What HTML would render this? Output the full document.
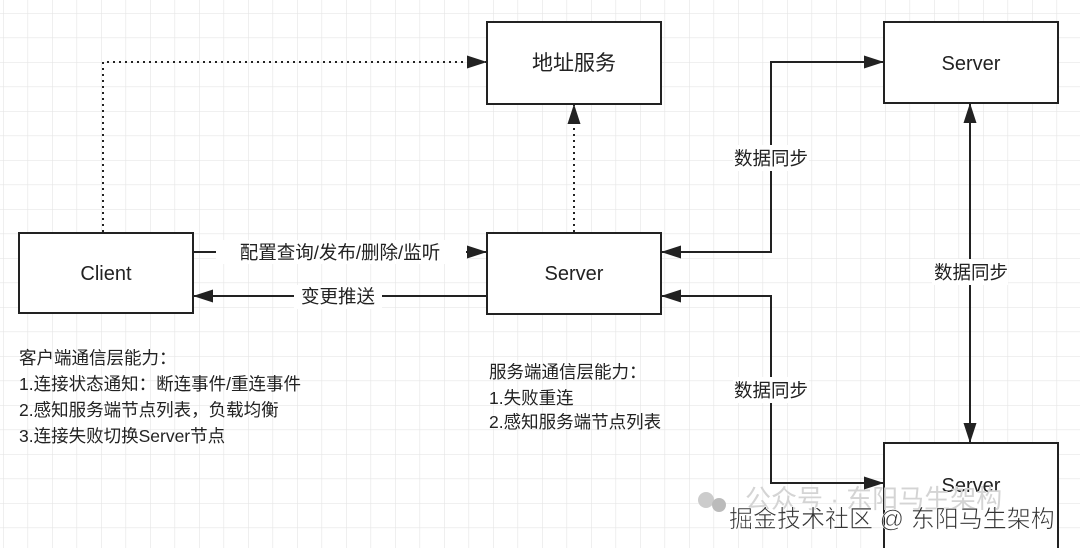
<!DOCTYPE html>
<html><head><meta charset="utf-8"><style>
body{margin:0;width:1080px;height:548px;overflow:hidden;background:#fff;}
svg text{font-family:"Liberation Sans","Noto Sans CJK SC",sans-serif;fill:#222;}
</style></head><body>
<svg width="1080" height="548" viewBox="0 0 1080 548" xmlns="http://www.w3.org/2000/svg">
<defs>
<pattern id="g" width="24.5" height="24.5" patternUnits="userSpaceOnUse" x="3" y="13">
<path d="M0 0H24.5M0 0V24.5" stroke="#e6e6e6" stroke-width="1.3" fill="none"/>
</pattern>
<marker id="a" markerWidth="20" markerHeight="13" refX="19" refY="6.5" orient="auto" markerUnits="userSpaceOnUse">
<path d="M0 0L20 6.5L0 13Z" fill="#222"/></marker>
</defs>
<rect width="1080" height="548" fill="url(#g)"/>
<g fill="#fff" stroke="#222" stroke-width="2">
<rect x="487" y="22" width="174" height="82"/>
<rect x="19" y="233" width="174" height="80"/>
<rect x="487" y="233" width="174" height="81"/>
<rect x="884" y="22" width="174" height="81"/>
<rect x="884" y="443" width="174" height="110"/>
</g>
<g stroke="#222" stroke-width="2" fill="none">
<path d="M103 232V62H486" stroke-dasharray="2 4" marker-end="url(#a)"/>
<path d="M574 232V105" stroke-dasharray="2 4" marker-end="url(#a)"/>
<path d="M194 252H486" marker-end="url(#a)"/>
<path d="M486 296H194" marker-end="url(#a)"/>
<path d="M771 158V62H883" marker-end="url(#a)"/>
<path d="M771 158V252H662" marker-end="url(#a)"/>
<path d="M771 390V296H662" marker-end="url(#a)"/>
<path d="M771 390V483H883" marker-end="url(#a)"/>
<path d="M970 272V104" marker-end="url(#a)"/>
<path d="M970 272V442" marker-end="url(#a)"/>
</g>
<g fill="#fff">
<rect x="216" y="240" width="250" height="24"/>
<rect x="294" y="285" width="88" height="24"/>
<rect x="733" y="145" width="76" height="26"/>
<rect x="733" y="377" width="76" height="26"/>
<rect x="932" y="259" width="76" height="26"/>
</g>
<g font-size="21" text-anchor="middle">
<text x="574" y="70">地址服务</text>
<text x="106" y="280" font-size="20">Client</text>
<text x="574" y="280" font-size="20">Server</text>
<text x="971" y="70" font-size="20">Server</text>
<text x="971" y="492" font-size="20">Server</text>
</g>
<g font-size="18.5" text-anchor="middle">
<text x="340" y="259">配置查询/发布/删除/监听</text>
<text x="338" y="303">变更推送</text>
<text x="771" y="165">数据同步</text>
<text x="771" y="397">数据同步</text>
<text x="971" y="279">数据同步</text>
</g>
<g font-size="17.5">
<text x="19" y="364">客户端通信层能力：</text>
<text x="19" y="390">1.连接状态通知：断连事件/重连事件</text>
<text x="19" y="416">2.感知服务端节点列表，负载均衡</text>
<text x="19" y="442">3.连接失败切换Server节点</text>
<text x="489" y="378">服务端通信层能力：</text>
<text x="489" y="404">1.失败重连</text>
<text x="489" y="428">2.感知服务端节点列表</text>
</g>
<circle cx="706" cy="500" r="8" fill="#ccc"/><circle cx="719" cy="505" r="7" fill="#bbb"/>
<text x="745" y="508" font-size="26" style="fill:#d4d4d4">公众号 · 东阳马生架构</text>
<text x="729" y="527" font-size="24" style="fill:#333;stroke:#fff;stroke-width:0.6">掘金技术社区 @ 东阳马生架构</text>
</svg>
</body></html>
